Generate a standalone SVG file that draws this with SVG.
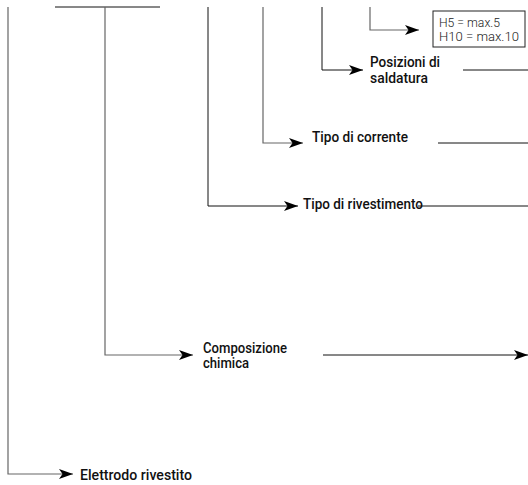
<svg xmlns="http://www.w3.org/2000/svg" width="528" height="485" viewBox="0 0 528 485">
<style>
.ln{fill:none;stroke:#111;stroke-width:1}
.lg{fill:none;stroke:#666;stroke-width:1.2}
.lb{font-family:Roboto,"Noto Sans",sans-serif;font-size:14px;font-weight:500;fill:#111}
.sm{font-family:Roboto,"Noto Sans",sans-serif;font-size:12.5px;font-weight:300;fill:#222}
</style>
<defs>
<marker id="ah" viewBox="0 0 14 10" refX="14" refY="5" markerWidth="14" markerHeight="10" markerUnits="userSpaceOnUse" orient="auto">
<path d="M0,0 L14,5 L0,10 L3.5,5 Z" fill="#000"/>
</marker>
</defs>
<rect width="528" height="485" fill="#fff"/>
<g id="connectors">
<path class="ln" d="M55,7 H160"/>
<path class="lg" d="M8,7 V474 H73" marker-end="url(#ah)"/>
<path class="lg" d="M105,7 V355 H193" marker-end="url(#ah)"/>
<path class="ln" d="M208,7 V206 H298" marker-end="url(#ah)"/>
<path class="lg" d="M263,7 V143 H303" marker-end="url(#ah)"/>
<path class="ln" d="M322,7 V70 H363" marker-end="url(#ah)"/>
<path class="lg" d="M370,7 V30 H419" marker-end="url(#ah)"/>
<path class="ln" d="M463,70 H528"/>
<path class="ln" d="M438,143 H528"/>
<path class="ln" d="M418,206 H528"/>
<path class="ln" d="M323,355 H528" marker-end="url(#ah)"/>
</g>
<g id="node-h">
<rect x="433" y="11" width="92" height="36" fill="#fff" stroke="#222" stroke-width="1"/>
<text class="sm" x="439" y="27" textLength="61" lengthAdjust="spacingAndGlyphs">H5 = max.5</text>
<text class="sm" x="439" y="41" textLength="80" lengthAdjust="spacingAndGlyphs">H10 = max.10</text>
</g>
<g id="node-posizioni">
<text class="lb" x="370" y="67" textLength="70" lengthAdjust="spacingAndGlyphs">Posizioni di</text>
<text class="lb" x="370" y="83" textLength="58" lengthAdjust="spacingAndGlyphs">saldatura</text>
</g>
<g id="node-corrente">
<text class="lb" x="312" y="142" textLength="96" lengthAdjust="spacingAndGlyphs">Tipo di corrente</text>
</g>
<g id="node-rivestimento">
<text class="lb" x="303" y="209" textLength="120" lengthAdjust="spacingAndGlyphs">Tipo di rivestimento</text>
</g>
<g id="node-composizione">
<text class="lb" x="203" y="353" textLength="84" lengthAdjust="spacingAndGlyphs">Composizione</text>
<text class="lb" x="203" y="368" textLength="46" lengthAdjust="spacingAndGlyphs">chimica</text>
</g>
<g id="node-elettrodo">
<text class="lb" x="80" y="480" textLength="112" lengthAdjust="spacingAndGlyphs">Elettrodo rivestito</text>
</g>
</svg>
